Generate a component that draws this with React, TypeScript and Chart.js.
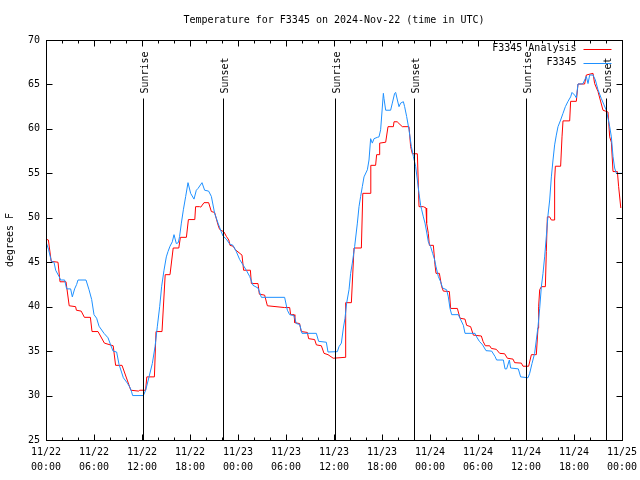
import React, { useEffect, useRef } from 'react';
import { Chart, registerables } from 'chart.js';
Chart.register(...registerables);

const FONT = "'DejaVu Sans Mono', 'Liberation Mono', monospace";
const TITLE = 'Temperature for F3345 on 2024-Nov-22 (time in UTC)';
const Y_LABEL = 'degrees F';
const SERIES_LABELS = ['F3345 Analysis', 'F3345'];
const SERIES_COLORS = ['#ff0000', '#1e90ff'];

const DATE_LABELS = ['11/22', '11/22', '11/22', '11/22', '11/23', '11/23', '11/23', '11/23', '11/24', '11/24', '11/24', '11/24', '11/25'];
const TIME_LABELS = ['00:00', '06:00', '12:00', '18:00', '00:00', '06:00', '12:00', '18:00', '00:00', '06:00', '12:00', '18:00', '00:00'];

const SUN_HOURS = [12.15, 22.12, 36.15, 46.0, 60.05, 70.0];
const SUN_LABELS = ['Sunrise', 'Sunset', 'Sunrise', 'Sunset', 'Sunrise', 'Sunset'];

// hours since 11/22 00:00 UTC
const analysisHours = [0, 0.3, 0.65, 1.5, 1.75, 2.5, 2.9, 3.7, 3.8, 4.4, 4.8, 5.55, 5.75, 6.5, 7.3, 8.4, 8.7, 9.5, 10.6, 11.6, 11.7, 12.45, 12.6, 13.55, 13.75, 14.5, 14.9, 15.5, 15.9, 16.6, 16.8, 17.55, 17.8, 18.6, 18.7, 19.2, 19.35, 19.75, 20.33, 20.67, 21.08, 21.5, 21.7, 22.25, 22.55, 22.85, 23.0, 23.4, 23.67, 24.5, 24.7, 25.55, 25.67, 26.5, 26.67, 27.33, 27.67, 29.83, 30.46, 30.58, 31.0, 31.1, 31.7, 31.9, 32.67, 32.83, 33.58, 33.8, 34.42, 34.75, 35.25, 35.9, 37.375, 37.46, 38.17, 38.5, 39.42, 39.6, 40.5, 40.6, 41.2, 41.33, 41.625, 41.71, 42.46, 42.75, 43.42, 43.5, 43.9, 44.125, 44.54, 45.375, 45.58, 45.79, 46.42, 46.625, 47.17, 47.5, 47.58, 47.79, 47.92, 48.42, 48.625, 48.75, 49.17, 49.46, 49.67, 50.42, 50.58, 51.42, 51.75, 52.375, 52.58, 53.08, 53.42, 54.42, 54.625, 54.92, 55.46, 55.67, 56.29, 56.71, 57.33, 57.67, 58.375, 58.58, 59.42, 59.625, 60.33, 60.67, 61.29, 61.5, 61.58, 61.71, 61.92, 62.42, 62.54, 62.67, 62.96, 63.17, 63.5, 63.58, 63.67, 64.33, 64.5, 64.625, 65.46, 65.58, 66.29, 66.5, 67.33, 67.54, 68.375, 68.58, 69.0, 69.625, 70.25, 70.46, 70.67, 70.875, 71.42, 71.58, 71.85];
const analysisTemps = [47.6, 47.5, 45.1, 45.0, 42.8, 42.8, 40.1, 40.0, 39.6, 39.5, 38.8, 38.8, 37.2, 37.2, 35.9, 35.6, 33.4, 33.4, 30.6, 30.5, 30.6, 30.6, 32.1, 32.1, 37.2, 37.2, 43.6, 43.6, 46.6, 46.6, 47.8, 47.8, 49.8, 49.8, 51.25, 51.25, 51.2, 51.7, 51.7, 50.7, 50.6, 49.2, 48.7, 48.4, 47.9, 47.5, 46.9, 46.8, 46.4, 45.8, 44.1, 44.1, 42.6, 42.6, 41.4, 41.3, 40.1, 39.9, 39.9, 39.1, 39.1, 38.2, 38.1, 37.2, 37.1, 36.4, 36.3, 35.7, 35.6, 34.75, 34.6, 34.2, 34.3, 40.45, 40.45, 46.6, 46.6, 52.75, 52.75, 55.9, 55.9, 57.1, 57.1, 58.4, 58.5, 60.25, 60.25, 60.8, 60.8, 60.6, 60.25, 60.25, 58.0, 57.2, 57.2, 51.25, 51.25, 51.1, 49.4, 48.25, 46.9, 46.9, 44.7, 43.75, 43.75, 42.25, 41.75, 41.7, 39.8, 39.8, 38.7, 38.6, 37.9, 37.75, 36.8, 36.7, 36.1, 35.6, 35.6, 35.3, 35.2, 34.75, 34.7, 34.2, 34.1, 33.7, 33.65, 33.3, 33.3, 34.6, 34.6, 37.6, 40.0, 41.9, 42.25, 42.25, 46.2, 50.1, 50.1, 49.75, 49.75, 54.25, 55.8, 55.8, 59.1, 60.9, 60.9, 63.1, 63.1, 65.05, 65.05, 66.06, 66.25, 65.1, 64.2, 62.1, 61.9, 59.1, 58.5, 55.2, 55.2, 53.5, 51.1];

const obsHours = [0, 0.33, 0.67, 1.0, 1.21, 1.63, 1.83, 2.33, 2.58, 3.08, 3.29, 3.58, 3.83, 4.0, 5.0, 5.38, 5.71, 6.0, 6.33, 6.63, 7.25, 7.75, 8.08, 8.38, 8.83, 9.13, 9.67, 10.17, 10.5, 10.67, 10.83, 12.17, 12.46, 12.88, 13.29, 13.63, 13.92, 14.21, 14.46, 14.75, 15.04, 15.25, 15.5, 15.79, 16.0, 16.29, 16.54, 16.7, 16.92, 17.17, 17.46, 17.75, 18.08, 18.5, 18.79, 19.0, 19.5, 19.83, 20.33, 20.67, 21.08, 21.5, 21.92, 22.125, 22.54, 22.96, 23.375, 23.79, 24.21, 24.625, 25.04, 25.46, 25.875, 26.5, 26.92, 29.83, 30.17, 30.46, 31.0, 31.29, 31.71, 32.0, 33.79, 34.08, 35.04, 35.25, 36.42, 36.625, 36.92, 37.17, 37.375, 37.58, 37.875, 38.08, 38.29, 38.58, 38.92, 39.125, 39.33, 39.54, 39.75, 40.17, 40.375, 40.58, 40.79, 41.0, 41.42, 41.625, 41.83, 42.17, 42.25, 42.46, 43.08, 43.29, 43.58, 43.71, 43.92, 44.125, 44.33, 44.67, 44.83, 45.08, 45.375, 45.67, 45.92, 46.21, 46.625, 46.83, 46.96, 47.17, 47.375, 47.58, 47.79, 48.08, 48.33, 48.54, 48.75, 49.04, 49.33, 49.58, 50.08, 50.29, 50.5, 50.71, 51.54, 51.75, 52.17, 52.375, 53.625, 53.83, 54.17, 54.58, 55.0, 55.71, 56.125, 56.33, 57.17, 57.375, 57.58, 57.92, 58.08, 59.04, 59.33, 60.25, 60.46, 60.75, 61.08, 61.29, 61.5, 61.71, 61.92, 62.125, 62.33, 62.54, 62.75, 62.96, 63.17, 63.375, 63.58, 63.79, 64.0, 64.33, 64.625, 64.92, 65.25, 65.58, 65.75, 66.08, 66.29, 66.5, 66.92, 67.125, 67.54, 67.75, 67.96, 68.375, 68.67, 69.0, 69.42, 69.75, 70.04, 70.25, 70.46, 70.67, 70.875, 71.08, 71.29, 71.5, 72.0];
const obsTemps = [47.3, 46.4, 45.1, 45.0, 44.1, 43.4, 43.0, 43.0, 42.0, 42.0, 41.1, 42.0, 42.5, 43.0, 43.0, 41.9, 40.8, 39.1, 38.7, 37.8, 37.0, 36.5, 35.7, 35.0, 34.9, 33.5, 32.0, 31.4, 30.9, 30.5, 30.0, 30.0, 30.6, 32.1, 33.6, 35.5, 37.8, 40.0, 42.3, 44.1, 45.6, 46.2, 46.8, 47.3, 48.1, 47.1, 47.2, 47.9, 49.4, 50.9, 52.4, 53.95, 52.75, 52.1, 53.1, 53.3, 53.95, 53.1, 53.0, 52.4, 50.5, 49.4, 48.4, 47.95, 47.6, 47.05, 46.9, 46.2, 45.3, 44.7, 44.1, 43.4, 42.4, 42.1, 41.05, 41.05, 39.6, 39.1, 39.0, 38.1, 38.0, 37.0, 37.0, 36.1, 36.0, 34.9, 34.94, 35.5, 35.9, 37.6, 38.7, 40.4, 41.9, 43.75, 44.9, 46.75, 49.4, 51.25, 52.4, 53.5, 54.6, 55.4, 56.5, 58.9, 58.4, 58.9, 59.05, 59.1, 59.9, 64.0, 63.4, 62.1, 62.1, 62.9, 64.0, 64.1, 63.25, 62.5, 62.9, 63.06, 62.5, 61.4, 59.9, 58.0, 56.9, 55.75, 52.75, 51.4, 50.9, 50.1, 49.4, 48.4, 47.3, 46.75, 46.0, 45.4, 44.5, 43.4, 42.8, 42.1, 41.9, 41.1, 39.8, 39.1, 39.1, 38.7, 37.9, 37.0, 37.0, 36.6, 36.1, 35.7, 35.05, 35.0, 34.4, 34.0, 34.0, 33.0, 33.0, 34.0, 33.1, 33.0, 32.1, 32.0, 32.5, 33.6, 34.75, 36.25, 37.75, 39.8, 42.25, 43.75, 45.6, 47.9, 50.3, 52.0, 54.6, 56.5, 58.2, 59.3, 60.25, 61.0, 61.75, 62.5, 63.1, 63.6, 64.1, 63.8, 63.5, 65.05, 65.05, 65.1, 65.9, 65.1, 66.06, 66.06, 65.5, 64.4, 63.4, 62.7, 62.1, 61.2, 60.25, 59.1, 56.9, 55.6, 55.0, 55.0, 55.0];

const X_MIN = 0, X_MAX = 72, X_MAJOR = 6, X_MINOR = 2;
const Y_MIN = 25, Y_MAX = 70, Y_STEP = 5;

const toPoints = (xs: number[], ys: number[]) => xs.map((x, i) => ({ x, y: ys[i] }));

const decorPlugin = {
  id: 'decor',
  afterDatasetsDraw(chart: any) {
    const { ctx, chartArea: a, scales } = chart;
    const xs = scales.x, ys = scales.y;
    const L = Math.round(a.left) + 0.5, R = Math.round(a.right) + 0.5;
    const T = Math.round(a.top) + 0.5, B = Math.round(a.bottom) + 0.5;
    ctx.save();
    ctx.strokeStyle = '#000';
    ctx.lineWidth = 1;
    ctx.beginPath();
    for (let h = X_MIN; h <= X_MAX; h += X_MINOR) {
      const px = Math.round(xs.getPixelForValue(h)) + 0.5;
      const len = h % X_MAJOR === 0 ? 6 : 3;
      ctx.moveTo(px, B); ctx.lineTo(px, B - len);
      ctx.moveTo(px, T); ctx.lineTo(px, T + len);
    }
    for (let v = Y_MIN; v <= Y_MAX; v += Y_STEP) {
      const py = Math.round(ys.getPixelForValue(v)) + 0.5;
      ctx.moveTo(L, py); ctx.lineTo(L + 6, py);
      ctx.moveTo(R, py); ctx.lineTo(R - 6, py);
    }
    SUN_HOURS.forEach((h) => {
      const px = Math.round(xs.getPixelForValue(h)) + 0.5;
      ctx.moveTo(px, T + 58); ctx.lineTo(px, B);
    });
    ctx.stroke();
    ctx.strokeRect(L, T, R - L, B - T);

    ctx.fillStyle = '#000';
    ctx.font = `10px ${FONT}`;
    // title centred over the plot area
    ctx.textAlign = 'center';
    ctx.textBaseline = 'middle';
    ctx.fillText(TITLE, (a.left + a.right) / 2, 20);

    SUN_HOURS.forEach((h, i) => {
      const px = Math.round(xs.getPixelForValue(h)) + 0.5;
      ctx.save();
      ctx.translate(px + 2, T + 53);
      ctx.rotate(-Math.PI / 2);
      ctx.textAlign = 'left';
      ctx.textBaseline = 'middle';
      ctx.fillText(SUN_LABELS[i], 0, 0);
      ctx.restore();
    });

    const order = [1, 0];
    order.forEach((di, k) => {
      const ds = chart.data.datasets[di];
      const ly = T + 8 + k * 14;
      ctx.textAlign = 'right';
      ctx.textBaseline = 'middle';
      ctx.fillStyle = '#000';
      ctx.fillText(ds.label, R - 46, ly);
      ctx.strokeStyle = ds.borderColor;
      ctx.beginPath();
      ctx.moveTo(R - 39, Math.round(ly) + 0.5);
      ctx.lineTo(R - 11, Math.round(ly) + 0.5);
      ctx.stroke();
    });
    ctx.restore();
  },
};

export default function App() {
  const ref = useRef<HTMLCanvasElement | null>(null);
  useEffect(() => {
    if (!ref.current) return;
    const chart = new Chart(ref.current, {
      type: 'line',
      data: {
        datasets: [
          {
            label: SERIES_LABELS[1],
            data: toPoints(obsHours, obsTemps),
            borderColor: SERIES_COLORS[1],
            borderWidth: 1,
            pointRadius: 0,
            tension: 0,
            fill: false,
          },
          {
            label: SERIES_LABELS[0],
            data: toPoints(analysisHours, analysisTemps),
            borderColor: SERIES_COLORS[0],
            borderWidth: 1,
            pointRadius: 0,
            tension: 0,
            fill: false,
          },
        ],
      },
      options: {
        animation: false,
        responsive: false,
        devicePixelRatio: 1,
        layout: { padding: { left: 0, right: 18, top: 40, bottom: 0 } },
        plugins: {
          legend: { display: false },
          tooltip: { enabled: false },
          title: { display: false },
        },
        scales: {
          x: {
            type: 'linear',
            min: X_MIN,
            max: X_MAX,
            grid: { display: false, drawTicks: false },
            border: { display: false },
            afterFit: (s: any) => { s.height = 40; s.paddingLeft = 0; s.paddingRight = 0; },
            ticks: {
              stepSize: X_MAJOR,
              autoSkip: false,
              maxRotation: 0,
              color: '#000',
              padding: 5,
              font: { family: FONT, size: 10, lineHeight: 1.5 },
              callback: (v: any) => {
                const i = Math.round(Number(v) / X_MAJOR);
                return [DATE_LABELS[i], TIME_LABELS[i]];
              },
            },
          },
          y: {
            min: Y_MIN,
            max: Y_MAX,
            grid: { display: false, drawTicks: false },
            border: { display: false },
            afterFit: (s: any) => { s.width = 46; s.paddingTop = 0; s.paddingBottom = 0; },
            title: {
              display: true,
              text: Y_LABEL,
              color: '#000',
              font: { family: FONT, size: 10, lineHeight: 1.2 },
              padding: { top: 4, bottom: 0 },
            },
            ticks: {
              stepSize: Y_STEP,
              color: '#000',
              padding: 6,
              font: { family: FONT, size: 10, lineHeight: 1.2 },
            },
          },
        },
      },
      plugins: [decorPlugin],
    });
    return () => chart.destroy();
  }, []);
  return (
    <div style={{ position: 'absolute', left: 0, top: 0, width: 640, height: 480, background: '#fff' }}>
      <canvas ref={ref} width={640} height={480} />
    </div>
  );
}
